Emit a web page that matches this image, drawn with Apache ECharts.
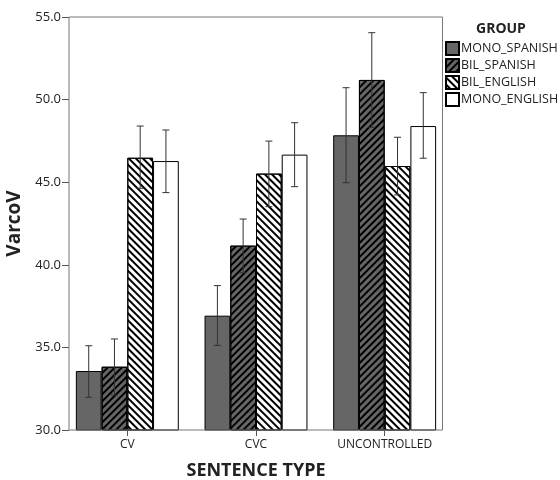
<!DOCTYPE html>
<html>
<head>
<meta charset="utf-8">
<script src="https://cdn.jsdelivr.net/npm/echarts@6/dist/echarts.min.js"></script>
<style>
	html, body { margin: 0; padding: 0; background: #fff; }
	#chart { width: 560px; height: 480px; }
</style>
</head>
<body>
<div id="chart"></div>
<script>
// data
var categories = [ 'CV', 'CVC', 'UNCONTROLLED' ];
var groups = [ 'MONO_SPANISH', 'BIL_SPANISH', 'BIL_ENGLISH', 'MONO_ENGLISH' ];
var yTicks = [ 30, 35, 40, 45, 50, 55 ];

var monoSpanish = [ 33.57, 36.92, 47.84 ];
var monoSpanishLow = [ 31.98, 35.12, 44.97 ];
var monoSpanishHigh = [ 35.10, 38.74, 50.72 ];

var bilSpanish = [ 33.83, 41.16, 51.19 ];
var bilSpanishLow = [ 32.12, 39.52, 48.32 ];
var bilSpanishHigh = [ 35.51, 42.77, 54.05 ];

var bilEnglish = [ 46.48, 45.52, 45.98 ];
var bilEnglishLow = [ 44.63, 43.52, 44.23 ];
var bilEnglishHigh = [ 48.40, 47.49, 47.72 ];

var monoEnglish = [ 46.28, 46.67, 48.40 ];
var monoEnglishLow = [ 44.37, 44.73, 46.45 ];
var monoEnglishHigh = [ 48.16, 48.60, 50.42 ];

var means = [ monoSpanish, bilSpanish, bilEnglish, monoEnglish ];
var lows = [ monoSpanishLow, bilSpanishLow, bilEnglishLow, monoEnglishLow ];
var highs = [ monoSpanishHigh, bilSpanishHigh, bilEnglishHigh, monoEnglishHigh ];

var font = '"Open Sans", "DejaVu Sans", sans-serif';
var fills = [ '#666', '#666', '#fff', '#fff' ];
var decals = [
	null,
	{ symbol : 'rect', symbolSize : 1, dashArrayX : [ 1, 0 ], dashArrayY : [ 1.8, 2.2 ], rotation : -Math.PI / 4, color : '#000' },
	{ symbol : 'rect', symbolSize : 1, dashArrayX : [ 1, 0 ], dashArrayY : [ 1.8, 2.2 ], rotation : Math.PI / 4, color : '#000' },
	null
];
var barFrac = 0.2;

var series = [];
groups.forEach(function(name, i) {
	var style = { color : fills[i], borderColor : '#000', borderWidth : 1 };
	if (decals[i]) style.decal = decals[i];
	series.push({
		name : name,
		type : 'bar',
		barWidth : '20%',
		barGap : '0%',
		itemStyle : style,
		emphasis : { disabled : true },
		data : means[i]
	});
});
groups.forEach(function(name, i) {
	series.push({
		name : name + ' CI',
		type : 'custom',
		z : 5,
		data : categories.map(function(c, k) { return [ k, lows[i][k], highs[i][k] ]; }),
		encode : { x : 0, y : [ 1, 2 ] },
		renderItem : function(params, api) {
			var band = api.size([ 1, 0 ])[0];
			var lo = api.coord([ api.value(0), api.value(1) ]);
			var hi = api.coord([ api.value(0), api.value(2) ]);
			var x = lo[0] + (i - 1.5) * band * barFrac;
			var cap = 3.5;
			var st = { stroke : '#333', lineWidth : 1 };
			return {
				type : 'group',
				children : [
					{ type : 'line', shape : { x1 : x, y1 : lo[1], x2 : x, y2 : hi[1] }, style : st },
					{ type : 'line', shape : { x1 : x - cap, y1 : lo[1], x2 : x + cap, y2 : lo[1] }, style : st },
					{ type : 'line', shape : { x1 : x - cap, y1 : hi[1], x2 : x + cap, y2 : hi[1] }, style : st }
				]
			};
		}
	});
});

var myChart = echarts.init(document.getElementById('chart'), null, { renderer : 'canvas' });
var option = {
	animation : false,
	title : {
		text : 'GROUP',
		left : 476,
		top : 22,
		padding : 0,
		textStyle : { fontFamily : font, fontSize : 14, fontWeight : 'bold', color : '#222' }
	},
	legend : {
		data : groups,
		orient : 'vertical',
		left : 445,
		top : 41,
		padding : 0,
		itemWidth : 13,
		itemHeight : 13,
		itemGap : 2,
		icon : 'rect',
		selectedMode : false,
		textStyle : { fontFamily : font, fontSize : 12.5, color : '#222', padding : [ 0, 0, 0, -3 ] }
	},
	grid : { left : 63, right : 111, top : 17, bottom : 50, outerBoundsMode : 'none', containLabel : false },
	graphic : [ {
		type : 'rect',
		shape : { x : 69, y : 17, width : 373.5, height : 413 },
		style : { fill : null, stroke : '#777', lineWidth : 1 },
		z : 10
	} ],
	xAxis : {
		type : 'category',
		data : categories,
		name : 'SENTENCE TYPE',
		nameLocation : 'middle',
		nameGap : 32,
		nameTextStyle : { fontFamily : font, fontSize : 18, fontWeight : 'bold', color : '#222' },
		axisLine : { show : false },
		axisTick : { show : true, alignWithLabel : true, length : 6, lineStyle : { color : '#555' } },
		axisLabel : { fontFamily : font, fontSize : 12, color : '#222', margin : 9 }
	},
	yAxis : {
		type : 'value',
		min : yTicks[0],
		max : yTicks[yTicks.length - 1],
		interval : 5,
		offset : -6,
		name : 'VarcoV',
		nameLocation : 'middle',
		nameGap : 35,
		nameRotate : 90,
		nameTextStyle : { fontFamily : font, fontSize : 19, fontWeight : 'bold', color : '#222' },
		splitLine : { show : false },
		axisLine : { show : false },
		axisTick : { show : true, length : 7, lineStyle : { color : '#555' } },
		axisLabel : {
			fontFamily : font, fontSize : 13, color : '#222', margin : 8,
			formatter : function(v) { return v.toFixed(1); }
		}
	},
	series : series
};
myChart.setOption(option);
</script>
</body>
</html>
